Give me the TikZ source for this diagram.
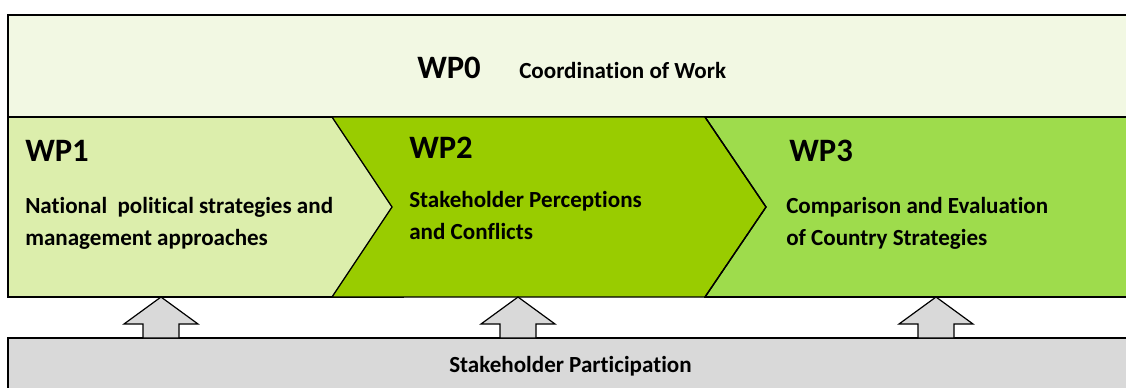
\documentclass[tikz,border=0pt]{standalone}
\usepackage{fontspec}
\setmainfont{Carlito}[Ligatures=CommonOff]
\usetikzlibrary{positioning}
\definecolor{wpzero}{HTML}{F2F8E3}
\definecolor{wpone}{HTML}{DCEEAC}
\definecolor{wptwo}{HTML}{99CC00}
\definecolor{wpthree}{HTML}{9EDC4C}
\definecolor{partgray}{HTML}{D9D9D9}
\tikzset{
    uparrow/.pic={
        % Head and shaft
        \draw[line width=0.9pt, fill=partgray] (0,0) -- (37,27) -- (18,27) -- (18,41) -- (-18,41) -- (-18,27) -- (-37,27) -- cycle;
    },
    wplabel/.style={font=\bfseries\fontsize{24.5}{29}\selectfont, inner sep=0pt, anchor=base west},
    wptext/.style={font=\bfseries\fontsize{17.3}{24}\selectfont, inner sep=0pt, anchor=base west, align=left},
    frame/.style={draw, line width=1.3pt},
}

\begin{document}
\begin{tikzpicture}[x=0.75pt, y=-0.75pt]
            \useasboundingbox (0,0) rectangle (1126,387);
            \clip (0,0) rectangle (1126,387);

            % WP0 (Coordination)
            \draw[frame, fill=wpzero] (8,15) rectangle (1140,117);
            \node[wplabel] (wp0) at (417,78) {WP0};
            \node[wptext] (wp0text) at (519,78) {Coordination of Work};

            % WP1 and WP3 blocks
            \draw[frame, fill=wpone] (8,117) rectangle (403,297);
            \draw[frame, fill=wpthree] (705,117) rectangle (1140,297);

            % WP2 chevron
            \draw[line width=1pt, fill=wptwo] (332,117) -- (705,117) -- (766,207) -- (705,297) -- (332,297) -- (392,207) -- cycle;
            \draw[line width=1pt] (705,117) -- (766,207) -- (705,297);

            % Labels of the work packages (base = last line)
            \node[wplabel] (wp1) at (25,161) {WP1};
            \node[wptext] (wp1text) at (25,245) {National\ \ political strategies and\\management approaches};
            \node[wplabel] (wp2) at (409,158) {WP2};
            \node[wptext] (wp2text) at (409,239) {Stakeholder Perceptions\\and Conflicts};
            \node[wplabel] (wp3) at (789,161) {WP3};
            \node[wptext] (wp3text) at (786,245) {Comparison and Evaluation\\of Country Strategies};

            % Stakeholder participation
            \draw[frame, fill=partgray] (8,338) rectangle (1140,400);
            \node[wptext] (part) at (449,372) {Stakeholder Participation};

            % Arrows up to the work packages
            \coordinate (wp1in) at (161,297);
            \coordinate (wp2in) at (518,297);
            \coordinate (wp3in) at (936,297);
            \foreach \tip in {wp1in, wp2in, wp3in}
                \pic at (\tip) {uparrow};
        \end{tikzpicture}
\end{document}
